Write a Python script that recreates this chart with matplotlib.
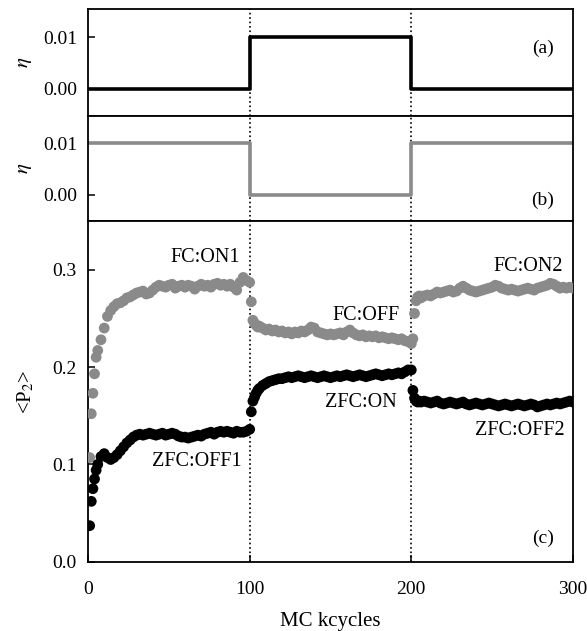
import matplotlib
matplotlib.use("Agg")
import matplotlib.pyplot as plt
import numpy as np
from matplotlib.ticker import FormatStrFormatter

plt.rcParams['font.family'] = 'serif'
plt.rcParams['font.serif'] = ['Liberation Serif', 'DejaVu Serif']
plt.rcParams['mathtext.fontset'] = 'stix'

# field switching protocol (step, held until next switch)
switch_kc = [0, 100, 200, 300]
eta_a = [0.0, 0.01, 0.0, 0.0]
eta_b = [0.01, 0.0, 0.01, 0.01]

# sampling times within each 100 kcycle stage
stage_start = [0, 100, 200]
offsets = [1, 2, 3, 4, 5, 6] + list(range(8, 101, 2))

# <P2> for field-cooled run (gray)
fc_vals = [
    # stage 1 (FC:ON1)
    0.107, 0.152, 0.173, 0.193, 0.210, 0.217,
    0.228, 0.240, 0.252, 0.258, 0.262, 0.265, 0.266, 0.268, 0.271, 0.272,
    0.274, 0.276, 0.277, 0.278, 0.275, 0.276, 0.279, 0.282, 0.284, 0.283,
    0.282, 0.284, 0.285, 0.281, 0.283, 0.284, 0.282, 0.284, 0.283, 0.280,
    0.283, 0.285, 0.283, 0.284, 0.282, 0.285, 0.286, 0.284, 0.285, 0.283,
    0.285, 0.282, 0.279, 0.287, 0.292, 0.289, 0.287,
    # stage 2 (FC:OFF)
    0.267, 0.248, 0.245, 0.243, 0.241, 0.242,
    0.240, 0.238, 0.239, 0.237, 0.238, 0.236, 0.237, 0.235, 0.236, 0.234,
    0.236, 0.235, 0.237, 0.236, 0.238, 0.241, 0.240, 0.236, 0.235, 0.234,
    0.233, 0.234, 0.233, 0.234, 0.235, 0.233, 0.236, 0.238, 0.235, 0.233,
    0.232, 0.233, 0.231, 0.232, 0.231, 0.232, 0.230, 0.231, 0.230, 0.229,
    0.230, 0.229, 0.228, 0.229, 0.227, 0.226, 0.224,
    # stage 3 (FC:ON2)
    0.229, 0.255, 0.268, 0.272, 0.273, 0.271,
    0.273, 0.274, 0.273, 0.275, 0.277, 0.276, 0.277, 0.278, 0.279, 0.277,
    0.278, 0.281, 0.283, 0.281, 0.279, 0.278, 0.277, 0.278, 0.279, 0.280,
    0.281, 0.282, 0.284, 0.283, 0.281, 0.280, 0.279, 0.280, 0.279, 0.278,
    0.279, 0.280, 0.281, 0.280, 0.279, 0.281, 0.282, 0.283, 0.284, 0.286,
    0.285, 0.283, 0.281, 0.282, 0.281, 0.282, 0.281,
]

# <P2> for zero-field-cooled run (black)
zfc_vals = [
    # stage 1 (ZFC:OFF1)
    0.037, 0.062, 0.075, 0.085, 0.094, 0.100,
    0.108, 0.111, 0.107, 0.105, 0.107, 0.110, 0.114, 0.118, 0.122, 0.125,
    0.128, 0.130, 0.131, 0.130, 0.131, 0.132, 0.131, 0.130, 0.131, 0.132,
    0.130, 0.131, 0.132, 0.131, 0.129, 0.128, 0.128, 0.127, 0.128, 0.129,
    0.130, 0.129, 0.131, 0.132, 0.133, 0.131, 0.133, 0.134, 0.133, 0.134,
    0.133, 0.132, 0.134, 0.133, 0.133, 0.134, 0.136,
    # stage 2 (ZFC:ON)
    0.154, 0.165, 0.169, 0.173, 0.176, 0.178,
    0.181, 0.183, 0.185, 0.186, 0.187, 0.188, 0.188, 0.189, 0.190, 0.189,
    0.190, 0.191, 0.190, 0.189, 0.190, 0.191, 0.190, 0.189, 0.190, 0.191,
    0.190, 0.189, 0.190, 0.191, 0.190, 0.191, 0.192, 0.191, 0.190, 0.191,
    0.192, 0.191, 0.190, 0.191, 0.192, 0.193, 0.192, 0.191, 0.192, 0.193,
    0.192, 0.193, 0.194, 0.193, 0.195, 0.197, 0.197,
    # stage 3 (ZFC:OFF2)
    0.176, 0.168, 0.165, 0.164, 0.165, 0.164,
    0.165, 0.164, 0.163, 0.164, 0.165, 0.163, 0.162, 0.163, 0.164, 0.163,
    0.162, 0.163, 0.164, 0.162, 0.161, 0.162, 0.163, 0.162, 0.161, 0.162,
    0.163, 0.162, 0.161, 0.160, 0.161, 0.162, 0.161, 0.160, 0.161, 0.162,
    0.161, 0.160, 0.161, 0.162, 0.161, 0.159, 0.160, 0.161, 0.162, 0.161,
    0.162, 0.163, 0.162, 0.163, 0.164, 0.165, 0.164,
]

kc = np.concatenate([s + np.array(offsets) for s in stage_start])

# stage labels: (text, x, y)
stage_labels = [
    ("FC:ON1", 94, 0.312),
    ("FC:OFF", 193, 0.253),
    ("FC:ON2", 294, 0.303),
    ("ZFC:OFF1", 95, 0.103),
    ("ZFC:ON", 191, 0.164),
    ("ZFC:OFF2", 295, 0.135),
]

gray = '#8a8a8a'
fig = plt.figure(figsize=(5.87, 6.31), dpi=100)
left, width = 0.150, 0.826
ax_a = fig.add_axes([left, 0.8162, width, 0.1695])
ax_b = fig.add_axes([left, 0.6498, width, 0.1664], sharex=ax_a)
ax_c = fig.add_axes([left, 0.1098, width, 0.5400], sharex=ax_a)

ax_a.step(switch_kc, eta_a, where='post', color='black', lw=2.6)
ax_b.step(switch_kc, eta_b, where='post', color=gray, lw=2.6)
ax_a.set_ylim(-0.0052, 0.0154)
ax_b.set_ylim(-0.0050, 0.0152)

ax_c.scatter(kc, fc_vals, s=60, color=gray, edgecolors='none', zorder=3)
ax_c.scatter(kc, zfc_vals, s=60, color='black', edgecolors='none', zorder=3)
ax_c.set_ylim(0, 0.35)
ax_c.set_xlim(0, 300)

for ax in (ax_a, ax_b, ax_c):
    for x in switch_kc[1:3]:
        ax.axvline(x, color='black', ls=':', lw=1.2, zorder=1)
    for sp in ax.spines.values():
        sp.set_linewidth(1.3)
    ax.tick_params(direction='in', length=5, width=1.1, labelsize=14,
                   top=False, right=False)
    ax.tick_params(axis='y', pad=8)

for ax in (ax_a, ax_b):
    ax.set_yticks([0.0, 0.01])
    ax.yaxis.set_major_formatter(FormatStrFormatter('%.2f'))
    ax.tick_params(axis='x', bottom=False, labelbottom=False)
    ax.set_ylabel(r'$\eta$', fontsize=15)
    ax.yaxis.set_label_coords(-0.112, 0.5)

ax_c.set_yticks([0.0, 0.1, 0.2, 0.3])
ax_c.yaxis.set_major_formatter(FormatStrFormatter('%.1f'))
ax_c.set_xticks([0, 100, 200, 300])
ax_c.tick_params(axis='x', pad=14)
ax_c.set_ylabel(r'<P$_2$>', fontsize=15)
ax_c.yaxis.set_label_coords(-0.107, 0.5)
ax_c.set_xlabel('MC kcycles', fontsize=15, labelpad=10)

for text, x, y in stage_labels:
    ax_c.text(x, y, text, ha='right', va='center', fontsize=14.5)

ax_a.text(0.96, 0.63, '(a)', transform=ax_a.transAxes, ha='right', va='center', fontsize=14)
ax_b.text(0.96, 0.20, '(b)', transform=ax_b.transAxes, ha='right', va='center', fontsize=14)
ax_c.text(0.96, 0.07, '(c)', transform=ax_c.transAxes, ha='right', va='center', fontsize=14)

plt.savefig('out.png', dpi=100)
